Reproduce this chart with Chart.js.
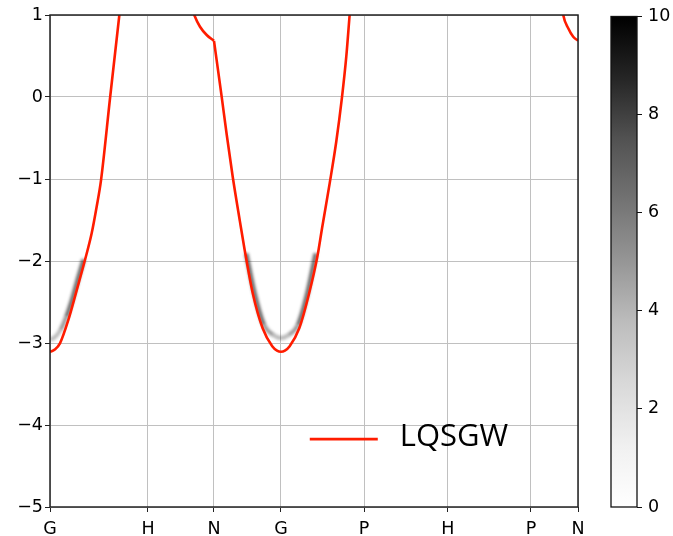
<!DOCTYPE html>
<html>
<head>
<meta charset="utf-8">
<script src="https://cdn.jsdelivr.net/npm/chart.js@4"></script>
<style>
html,body{margin:0;padding:0;background:#fff;}
#wrap{position:relative;width:673px;height:536px;}
canvas{position:absolute;left:0;top:0;}
</style>
</head>
<body>
<div id="wrap">
<canvas id="main" width="673" height="536"></canvas>
<canvas id="cbar" width="673" height="536"></canvas>
</div>
<script>
// ---- data ----
const kTicks = [0, 1.023, 1.712, 2.411, 3.278, 4.154, 5.021, 5.512];
const kLabels = ['G', 'H', 'N', 'G', 'P', 'H', 'P', 'N'];
const yTicks = [-5, -4, -3, -2, -1, 0, 1];
const seriesLabel = 'LQSGW';

const band1K = [0, 0.05, 0.104, 0.191, 0.279, 0.365, 0.435, 0.487, 0.532, 0.628, 0.724, 0.76];
const band1E = [-3.11, -3.08, -3.004, -2.720, -2.354, -1.988, -1.662, -1.338, -1.02, 0.0, 1.0, 1.37];

const band2aK = [1.45, 1.506, 1.566, 1.636, 1.712];
const band2aE = [1.2, 1.0, 0.857, 0.756, 0.685];

const band2bK = [1.712, 1.792, 1.845, 1.907, 1.983, 2.030, 2.116, 2.220, 2.32, 2.37, 2.411, 2.452, 2.502, 2.602, 2.706, 2.792, 2.840, 2.920, 2.989, 3.048, 3.093, 3.128, 3.16];
const band2bE = [0.685, 0.004, -0.46, -0.97, -1.52, -1.85, -2.39, -2.82, -3.04, -3.093, -3.106, -3.093, -3.04, -2.82, -2.39, -1.94, -1.60, -1.05, -0.54, -0.004, 0.491, 1.0, 1.45];

const band3K = [5.33, 5.358, 5.410, 5.462, 5.512];
const band3E = [1.25, 1.0, 0.838, 0.735, 0.687];

// spectral-function intensity ridges (grey haze)
const hazeAK = [0, 0.05, 0.11, 0.17, 0.23, 0.29, 0.35];
const hazeAE = [-2.96, -2.93, -2.84, -2.68, -2.47, -2.22, -1.98];
const hazeBK = [2.05, 2.136, 2.235, 2.33, 2.411, 2.492, 2.587, 2.686, 2.772];
const hazeBE = [-1.906, -2.39, -2.78, -2.9, -2.94, -2.9, -2.78, -2.39, -1.906];

const cbarTicks = [0, 2, 4, 6, 8, 10];
const cbarMax = 10;

// ---- helpers ----
const zip = (ks, es) => ks.map((k, i) => ({x: k, y: es[i]}));
const minus = v => (v < 0 ? '\u2212' + Math.abs(v) : String(v));
const RED = '#ff1c00';

function bandDS(ks, es, label) {
  return {
    label: label, data: zip(ks, es), borderColor: RED, borderWidth: 2.6,
    pointRadius: 0, fill: false, cubicInterpolationMode: 'monotone', order: 0,
    legendItem: label === seriesLabel
  };
}
function hazeDS(ks, es) {
  return {
    label: 'A(k,ω)', data: zip(ks, es), borderColor: 'rgba(30,30,30,0.5)', borderWidth: 4,
    pointRadius: 0, fill: false, cubicInterpolationMode: 'monotone', order: 2, blur: 1.6,
    segment: {
      borderColor: c => {
        const e = (c.p0.parsed.y + c.p1.parsed.y) / 2;
        const a = e < -2.85 ? 0.3 : (e < -2.6 ? 0.45 : 0.65);
        return 'rgba(20,20,20,' + a + ')';
      }
    }
  };
}

const blurPlugin = {
  id: 'blurPlugin',
  beforeDatasetDraw(chart, args) {
    const ds = chart.data.datasets[args.index];
    if (ds.blur) { chart.ctx.save(); chart.ctx.filter = 'blur(' + ds.blur + 'px)'; }
  },
  afterDatasetDraw(chart, args) {
    const ds = chart.data.datasets[args.index];
    if (ds.blur) { chart.ctx.restore(); }
  }
};

const framePlugin = {
  id: 'frame',
  afterDatasetsDraw(chart) {
    const a = chart.chartArea, ctx = chart.ctx;
    ctx.save();
    ctx.strokeStyle = '#222';
    ctx.lineWidth = 1.5;
    ctx.strokeRect(a.left, a.top, a.right - a.left, a.bottom - a.top);
    ctx.restore();
  }
};

const legendPlugin = {
  id: 'inLegend',
  afterDraw(chart) {
    const ds = chart.data.datasets.find(d => d.legendItem);
    if (!ds) return;
    const ctx = chart.ctx, xs = chart.scales.x, ys = chart.scales.y;
    const x0 = xs.left + (xs.right - xs.left) * 0.492;
    const y0 = ys.top + (ys.bottom - ys.top) * 0.862;
    ctx.save();
    ctx.strokeStyle = ds.borderColor;
    ctx.lineWidth = 2.6;
    ctx.beginPath();
    ctx.moveTo(x0, y0);
    ctx.lineTo(x0 + 68, y0);
    ctx.stroke();
    ctx.fillStyle = '#000';
    ctx.font = '31px "Open Sans"';
    ctx.textBaseline = 'middle';
    ctx.fillText(ds.label, x0 + 90, y0 - 2);
    ctx.restore();
  }
};

const tickFont = {family: 'DejaVu Sans', size: 17.5};

new Chart(document.getElementById('main'), {
  type: 'line',
  data: {
    datasets: [
      bandDS(band1K, band1E, seriesLabel),
      bandDS(band2aK, band2aE, '_b2a'),
      bandDS(band2bK, band2bE, '_b2b'),
      bandDS(band3K, band3E, '_b3'),
      hazeDS(hazeAK, hazeAE),
      hazeDS(hazeBK, hazeBE)
    ]
  },
  options: {
    responsive: false, animation: false, devicePixelRatio: 1,
    layout: {padding: {left: 0, right: 95, top: 15, bottom: 0}},
    plugins: {legend: {display: false}, tooltip: {enabled: false}},
    scales: {
      x: {
        type: 'linear', min: kTicks[0], max: kTicks[kTicks.length - 1],
        afterBuildTicks: s => { s.ticks = kTicks.map(v => ({value: v})); },
        afterFit: s => { s.height = 29; },
        ticks: {
          font: tickFont, color: '#000', padding: 7, maxRotation: 0, autoSkip: false,
          callback: (v, i) => kLabels[i]
        },
        grid: {color: '#c0c0c0', lineWidth: 1, tickLength: 5, tickColor: '#222'},
        border: {display: false}
      },
      y: {
        type: 'linear', min: -5, max: 1,
        afterBuildTicks: s => { s.ticks = yTicks.map(v => ({value: v})); },
        afterFit: s => { s.width = 50; },
        ticks: {font: tickFont, color: '#000', padding: 2, callback: v => minus(v)},
        grid: {color: '#c0c0c0', lineWidth: 1, tickLength: 5, tickColor: '#222'},
        border: {display: false}
      }
    }
  },
  plugins: [blurPlugin, framePlugin, legendPlugin]
});

// ---- colour bar ----
const greys = ['#ffffff', '#f0f0f0', '#d9d9d9', '#bdbdbd', '#969696', '#737373', '#525252', '#252525', '#000000'];
const cbFrame = {
  id: 'cbFrame',
  afterDatasetsDraw(chart) {
    const a = chart.chartArea, ctx = chart.ctx;
    ctx.save();
    ctx.strokeStyle = '#111';
    ctx.lineWidth = 1.3;
    ctx.strokeRect(a.left, a.top, a.right - a.left, a.bottom - a.top);
    ctx.restore();
  }
};
new Chart(document.getElementById('cbar'), {
  type: 'bar',
  data: {
    labels: [''],
    datasets: [{
      label: 'intensity', data: [cbarMax], borderWidth: 0,
      barPercentage: 1, categoryPercentage: 1,
      backgroundColor: ctx => {
        const a = ctx.chart.chartArea;
        if (!a) return '#888';
        const g = ctx.chart.ctx.createLinearGradient(0, a.bottom, 0, a.top);
        greys.forEach((c, i) => g.addColorStop(i / (greys.length - 1), c));
        return g;
      }
    }]
  },
  options: {
    responsive: false, animation: false, devicePixelRatio: 1,
    layout: {padding: {left: 611, right: 0, top: 15, bottom: 29}},
    plugins: {legend: {display: false}, tooltip: {enabled: false}},
    scales: {
      x: {display: false},
      y: {
        position: 'right', min: 0, max: cbarMax,
        afterBuildTicks: s => { s.ticks = cbarTicks.map(v => ({value: v})); },
        afterFit: s => { s.width = 36; },
        ticks: {font: tickFont, color: '#000', padding: 6},
        grid: {drawOnChartArea: false, tickLength: 5, tickColor: '#111'},
        border: {display: false}
      }
    }
  },
  plugins: [cbFrame]
});
</script>
</body>
</html>
